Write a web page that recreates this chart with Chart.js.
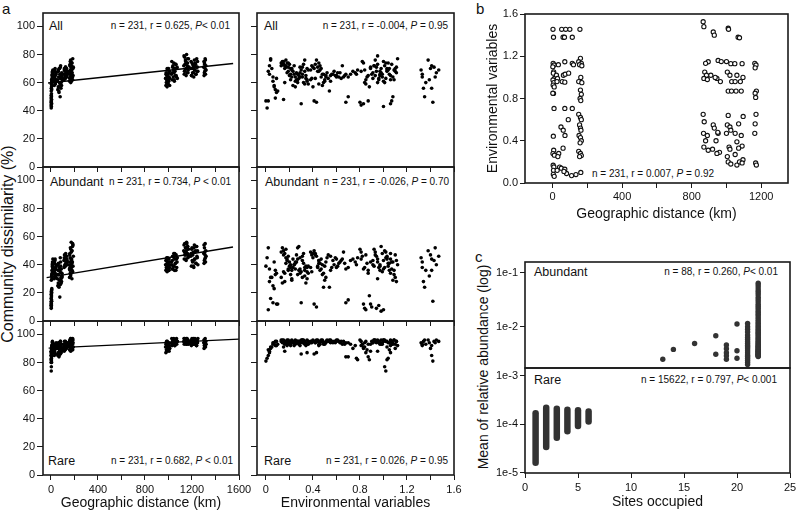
<!DOCTYPE html>
<html><head><meta charset="utf-8">
<script src="https://cdn.jsdelivr.net/npm/chart.js@4.4.1/dist/chart.umd.min.js"></script>
<style>
html,body{margin:0;padding:0;background:#fff;}
#root{position:relative;width:800px;height:513px;overflow:hidden;font-family:'Liberation Sans',Arial,Helvetica,sans-serif;color:#111;}
canvas{position:absolute;}
.t{position:absolute;white-space:nowrap;line-height:1;transform:translateY(-50%);}
.tr{position:absolute;white-space:nowrap;line-height:1;transform:translate(-100%,-50%);}
.lab{font-size:12.5px;}
.st{font-size:10px;}
.let{font-size:15px;}
.vt{position:absolute;white-space:nowrap;line-height:1;transform:translate(-50%,-50%) rotate(-90deg);font-size:16px;}
</style></head><body><div id="root">
<div class="t let" style="left:2px;top:8px">a</div>
<div class="t let" style="left:476px;top:8px">b</div>
<div class="t let" style="left:475px;top:256px">c</div>
<div class="vt" style="left:8px;top:244px">Community dissimilarity (%)</div>
<div class="vt" style="left:483px;top:367px;font-size:14px">Mean of relative abundance (log)</div>

<div class="t lab" style="left:49px;top:26px">All</div>
<div class="tr st" style="left:230px;top:26px">n = 231, r = 0.625, <i>P</i>&lt; 0.01</div>
<div class="t lab" style="left:264px;top:26px">All</div>
<div class="tr st" style="left:448px;top:26px">n = 231, r = -0.004, <i>P</i> = 0.95</div>

<div class="t lab" style="left:50px;top:182px">Abundant</div>
<div class="tr st" style="left:231px;top:182px">n = 231, r = 0.734, <i>P</i> &lt; 0.01</div>
<div class="t lab" style="left:265px;top:182px">Abundant</div>
<div class="tr st" style="left:449px;top:182px">n = 231, r = -0.026, <i>P</i> = 0.70</div>

<div class="t lab" style="left:48px;top:461px">Rare</div>
<div class="tr st" style="left:233px;top:461px">n = 231, r = 0.682, <i>P</i> &lt; 0.01</div>
<div class="t lab" style="left:264px;top:461px">Rare</div>
<div class="tr st" style="left:448px;top:461px">n = 231, r = 0.026, <i>P</i> = 0.95</div>

<div class="t st" style="left:592px;top:174px">n = 231, r = 0.007, <i>P</i> = 0.92</div>

<div class="t lab" style="left:534px;top:272px">Abundant</div>
<div class="tr st" style="left:778px;top:272px">n = 88, r = 0.260, <i>P</i>&lt; 0.01</div>
<div class="t lab" style="left:534px;top:380px">Rare</div>
<div class="tr st" style="left:777px;top:380px">n = 15622, r = 0.797, <i>P</i>&lt; 0.001</div>
</div>
<script>
// ---------------- DATA ----------------
// Panel a, left column: geographic distance (km) of each site pair
const geoDistance = [
 2,3,1,4,2,3,5,1,4,2,3,5,4,2, 6,3,5,7,4,6,8,5,7,3, 10,12,9,14,11,13,10,15,12,16,11,14,
 25,28,30,32,35,38,40,42,27,33,37,44,29,36,41,31,
 55,58,60,62,65,68,70,72,75,78,80,82,85,88,90,92,95, 57,63,67,73,77,83,87,93, 61,69,79,86,91,
 110,112,115,118,120,122,125,128,130,132,135,138,140, 113,117,123,127,133,137,119,
 155,158,160,162,165,168,170,172,175,178,180,182,185,188,190, 157,163,167,173,177,183,187, 159,164,169,174,179,184, 171,176, 161,166,
 975,978,980,982,985,988,990,992,995,998,1000,1002,1005,1008,1010, 979,984,989,994,999,1004,1009,
 1025,1030,1035,1040,1045,1050,1055,1060,1065,1070,1075, 1028,1033,1038,1043,1048,1053,1058,1063,1068,1073, 1047,
 1130,1134,1138,1142,1146,1150,1154,1158,1162,1166,1170,1175, 1132,1136,1140,1144,1148,1152,1156,1160,1164,1168,
 1190,1195,1200,1205,1210,1215,1220,1225,1230,1235,1240,1245,1250, 1192,1197,1202,1207,1212,1217,1222,1227,1232,1237,1242,1247, 1213,
 1300,1303,1306,1309,1312,1315,1318,1320,1302,1305,1308,1311,1314
];
const dissimAll = [
 42,43,44,45,46,47,48,49,50,51,47,45,52,54, 55,56,57,58,59,60,61,62,60,59, 63,64,65,66,67,68,62,64,66,69,61,65,
 64,58,68,60,70,59,66,62,61,63,65,67,69,62,66,64,
 61,55,68,57,64,53,70,60,66,50,63,72,56,65,58,67,62, 62,68,54,70,59,66,60,64, 69,57,71,63,65,
 66,62,70,64,68,63,71,65,69,67,64,66,68, 69,63,71,65,70,67,66,
 66,61,72,64,69,60,75,63,70,67,74,62,77,65,71, 68,73,76,61,69,64,70, 63,75,66,72,67,62, 71,65, 68,73,
 63,58,67,60,65,57,69,62,66,59,70,61,64,68, 58,66,62,70,60,64,67,63,
 66,62,71,64,74,61,68,73,65,70,63,75,67,72,69, 62,70,65,73,64,71,67,
 72,66,78,69,75,65,80,70,74,67,77,71,79,68,73,76, 70,74,67,72,77,69,
 70,65,74,67,72,64,76,69,73,66,77,71,68,75, 65,70,73,67,72,69, 74,66,71,68,75, 70,
 71,65,74,68,77,66,72,69,75,67,73,70,76
];
const dissimAbundant = [
 9,10,11,12,13,14,15,16,17,12,11,14,18,19, 20,21,22,23,20,22,30,32,33,29, 34,35,36,38,40,42,31,37,39,44,33,41,
 36,30,42,33,44,38,31,40,35,43,32,39,41,34,37,36,
 30,25,36,27,33,24,38,29,17,35,26,42,31,37,28,34,32, 33,41,25,36,29,39,27,31, 40,26,45,30,34,
 43,38,47,40,45,39,48,41,46,42,44,40,42, 45,39,47,41,46,43,44,
 40,31,48,36,52,33,44,56,38,30,50,42,35,54,46, 37,45,32,49,41,53,39, 47,34,51,43,36,55, 40,44, 38,42,
 40,36,43,38,45,35,41,44,37,42,39,36,44,38, 40,43,37,41,45,39,36,42,
 42,37,46,39,48,36,44,41,47,38,45,40,43,37, 46,39,48,41,36,44,42,45,
 50,44,55,47,52,43,56,48,53,45,51,46,54,49, 47,52,44,50,55,48,53,46,
 46,39,52,42,49,38,54,44,50,41,53,45,40,48,51,43,47, 39,52,44,49,41,53,46,50, 43,
 48,41,52,44,55,42,50,46,54,43,49,47,45
];
const dissimRare = [
 74,77,80,81,82,83,84,85,86,87,82,80,88,85, 86,88,89,90,87,91,90,89,92,88, 90,91,92,93,94,92,91,93,95,94,90,92,
 89,85,92,87,93,86,90,91,87,89,91,94,88,90,92,90,
 90,85,93,87,91,84,94,89,88,92,86,95,88,91,89,93,90, 91,94,86,92,89,93,87,90, 93,85,95,88,90,
 92,88,95,90,93,89,94,91,92,90,94,93,91, 93,89,95,91,94,92,92,
 93,89,96,91,94,88,97,92,95,90,93,96,89,94,91, 95,92,97,90,94,93,96, 91,95,92,94,90,97, 93,95, 92,94,
 91,87,94,89,92,88,95,90,93,89,91,94,88,92, 90,93,95,91,89,94,92,90,
 94,92,96,93,97,95,92,94,96,93,95,97,94,96, 93,95,92,96,94,97,95,93,
 95,93,97,94,96,93,95,97,94,96,93,95,97,94,96,95, 94,97,93,96,95,94,
 95,92,97,94,96,93,95,97,94,96,92,95,97,93, 96,94,95,97,93,96, 94,95,92,96,94, 95,
 94,90,96,92,97,91,95,93,96,92,94,95,93
];
// regression lines (km -> %)
const fitGeoStart = [-25, -37, -20];
const fitGeoEnd = [1550, 1549, 1600];
const fitAllY = [59.7, 73.6];
const fitAbundantY = [30.8, 52.6];
const fitRareY = [90.2, 96.6];

// Panel a, middle column: environmental distance of each site pair
const envDistance = [
 0.00,0.01,0.02,0.03,0.04,0.05,0.06,0.07,0.08,0.09,0.10,0.02,0.04,0.06,0.08,0.03,0.07,0.09,
 0.13,0.14,0.15,0.16,0.17,0.18,0.19,0.20,0.21,0.22,0.13,0.15,0.17,0.19,0.21,0.14,0.16,0.18,0.20,0.22,0.15,0.17,0.19,0.21,0.16,
 0.22,0.23,0.24,0.25,0.26,0.27,0.28,0.29,0.30,0.31,0.32,0.33,0.34,0.35,0.36, 0.23,0.25,0.27,0.29,0.31,0.33,0.35, 0.24,0.26,0.28,0.30,0.32,0.34,0.36, 0.25,0.29,0.33,0.27,0.31,0.35,
 0.38,0.39,0.40,0.41,0.42,0.43,0.44,0.45,0.46,0.47,0.48,0.49,0.50,0.51,0.52, 0.39,0.41,0.43,0.45,0.47,0.49,0.51, 0.40,0.42,0.44,0.46,0.48,0.50,0.38,0.45,
 0.53,0.55,0.57,0.58,0.60,0.62,0.63,0.65,0.66,0.68, 0.54,0.56,0.59,0.61,0.64,0.67,0.55,0.60,
 0.68,0.70,0.72,0.74,0.76,0.77,0.78,0.70,
 0.80,0.81,0.82,0.83,0.84,0.85,0.86,0.87,0.88,0.89,0.90,0.91,0.92, 0.81,0.83,0.85,0.87,0.89,0.91,0.84,
 0.92,0.93,0.94,0.95,0.96,0.97,0.98,0.99,1.00,1.01,1.02,1.03,1.04,1.05,1.06,1.07,1.08,1.09,1.10,1.11,1.12, 0.93,0.95,0.97,0.99,1.01,1.03,1.05,1.07,1.09,1.11, 0.94,0.96,0.98,1.00,1.02,1.04,1.06,1.08,1.10, 0.97,1.00,1.03,1.06,0.95,
 1.32,1.33,1.34,1.35,1.36,1.38,1.40,1.41,1.42,1.43,1.44,1.45,1.47,1.33,1.41,1.39
];
const envDissimAll = [
 47,42,68,72,76,70,64,58,55,53,54,47,77,61,49,66,57,63,
 74,75,73,72,76,74,71,73,70,69,72,75,71,68,66,73,70,67,65,64,48,72,74,62,60,
 70,68,66,64,62,60,65,67,69,71,73,76,63,61,59, 58,57,62,64,66,68,70, 72,67,63,45,60,65,69, 61,71,59,66,64,62,
 69,72,71,70,73,76,71,68,69,64,58,66,62,65,67, 63,47,46,74,70,60,64, 57,63,68,72,66,61,62,59,
 63,65,66,68,65,64,67,72,64,66, 54,66,65,67,63,65,61,64,
 46,50,66,68,67,66,69,64,
 46,44,75,74,69,59,64,47,57,70,66,63,72,68,45,62,65,71,67,60,
 72,76,68,79,62,65,70,66,75,60,63,69,74,70,65,47,50,62,68,71,77, 65,60,68,64,72,70,66,73,69,67, 71,63,67,43,74,69,62,64,70, 66,61,68,45,73,
 69,64,56,50,60,76,70,56,46,71,64,67,69,66,72,62
];
const envDissimAbundant = [
 39,45,52,37,31,31,25,23,36,12,12,8,16,13,33,28,42,34,
 49,52,50,48,45,44,36,42,38,29,31,47,51,46,40,27,34,43,39,30,35,41,37,33,28,
 36,38,40,42,47,52,53,34,35,31,41,36,27,35,39, 44,37,33,45,43,38,30, 40,42,36,13,48,39,34, 41,37,32,44,46,38,
 49,47,48,50,48,46,38,41,36,44,40,24,39,42,45, 35,12,10,43,37,34,31, 45,47,39,41,33,29,38,43,
 47,46,43,40,38,41,42,44,49,37, 24,38,45,39,43,41,36,44,
 13,15,43,44,42,40,45,38,
 51,49,46,12,9,8,41,34,18,12,10,43,39,44,37,47,36,42,40,38,
 51,49,46,42,38,36,53,48,43,38,49,45,41,36,44,42,29,36,31,28,40, 47,44,39,35,50,46,41,37,33,43, 9,11,7,8,45,39,34,42,47, 40,37,44,48,30,
 45,42,28,24,36,50,47,36,14,43,52,40,46,38,44,32
];
const envDissimRare = [
 81,83,85,87,90,91,94,94,95,92,93,89,91,93,92,88,94,95,
 95,96,96,95,94,96,95,94,93,95,96,95,94,96,95,94,93,92,94,95,91,94,93,92,88,
 96,95,94,96,95,94,93,95,96,94,95,93,92,96,95, 94,93,95,94,96,95,93, 92,94,95,86,96,94,93, 95,92,94,95,96,87,
 94,95,96,95,94,96,95,93,94,95,96,94,93,95,96, 94,86,87,95,96,93,94, 95,94,96,93,95,94,95,92,
 95,96,94,95,96,95,94,93,95,94, 96,95,94,96,95,93,94,95,
 84,84,93,90,92,83,82,94,
 96,95,93,91,94,87,89,84,82,93,95,94,96,92,90,95,93,88,94,91,
 96,95,94,96,95,93,96,94,96,77,74,82,83,89,87,95,94,96,93,95,92, 96,95,94,93,96,95,94,93,96,95, 95,94,93,96,95,94,92,93,90, 94,95,91,96,88,
 94,92,95,96,93,96,90,85,81,95,94,96,95,93,92,94
];

// Panel b: [geographic distance (km), environmental distance]
const geoEnvPairs = [
 [2,1.455],[5,1.38],[3,1.133],[8,1.117],[1,1.10],[6,1.053],[4,1.04],[10,0.99],[2,0.975],[7,0.95],[3,0.927],[9,0.91],[5,0.848],[1,0.85],[8,0.706],[4,0.443],[6,0.31],[2,0.279],[10,0.263],[3,0.168],[7,0.152],[5,0.12],[4,0.082],[9,0.063],
 [22,1.02],[28,0.99],[25,0.96],[35,0.28],[30,0.25],[40,0.15],[26,0.12],[33,1.12],
 [52,1.455],[75,1.455],[60,1.38],[68,1.38],[70,1.148],[62,1.02],[72,1.03],[55,0.96],[70,0.955],[70,0.706],[48,0.53],[61,0.50],[71,0.45],[60,0.33],[50,0.14],[70,0.13],[80,0.09],[65,0.11],
 [99,1.455],[113,1.38],[113,1.133],[92,1.04],[113,0.706],[90,0.6],[109,0.07],[134,0.08],[120,1.12],
 [157,1.455],[160,1.18],[150,1.148],[165,1.133],[155,1.12],[168,1.11],[162,1.0],[150,0.96],[168,0.95],[160,0.88],[165,0.84],[158,0.8],[162,0.78],[150,0.65],[160,0.62],[165,0.6],[155,0.55],[160,0.52],[163,0.5],[152,0.45],[160,0.43],[165,0.40],[158,0.38],[150,0.3],[160,0.28],[165,0.26],[155,0.25],[162,0.1],
 [866,1.527],[870,1.48],[895,1.148],[880,1.133],[875,1.05],[885,1.02],[870,0.99],[890,0.98],[866,0.65],[872,0.58],[868,0.47],[890,0.45],[880,0.4],[870,0.34],[895,0.31],
 [924,1.43],[930,1.40],[952,1.16],[970,1.15],[910,1.02],[945,0.99],[965,0.96],[935,1.0],[924,0.55],[930,0.52],[952,0.47],[950,0.48],[940,0.4],[920,0.32],[960,0.29],[945,0.28],
 [1010,1.465],[1012,1.455],[1000,1.15],[1025,1.13],[1005,1.05],[1020,1.02],[1030,0.96],[1010,0.87],[1029,0.87],[1010,0.64],[1005,0.55],[1020,0.53],[1025,0.5],[1000,0.47],[1015,0.34],[1020,0.32],[1005,0.25],[1010,0.2],[1025,0.18],
 [1067,1.38],[1075,1.375],[1048,1.13],[1090,1.13],[1060,1.02],[1095,1.0],[1080,0.96],[1050,0.96],[1055,0.87],[1085,0.87],[1096,0.63],[1070,0.56],[1050,0.47],[1085,0.45],[1060,0.39],[1090,0.35],[1070,0.33],[1050,0.27],[1095,0.22],[1075,0.2],[1060,0.17],[1090,0.19],
 [1163,1.133],[1170,1.117],[1165,1.09],[1172,0.87],[1165,0.85],[1168,0.81],[1170,0.65],[1165,0.56],[1163,0.47],[1168,0.19],[1172,0.17]
];

// Panel c: abundant OTUs (sites occupied, mean relative abundance)
const abundantSites = [13,14,16,18,18,19,19,19,19,19,20,20,20,
 21,21,21,21,21,21,21,21,21,21,21,21,21,21,21,21,21,21,21,21,
 22,22,22,22,22,22,22,22,22,22,22,22,22,22,22,22,22,22,22,22,22,22,22,22,22,22,22,22,22,22,22,22,22,22,22,22,22,22,22,22,22,22,22,22,22,22,22,22,22,22,22,22,22,22,22];
const abundantMean = [0.0025,0.0038,0.0049,0.0068,0.0031,0.0046,0.0039,0.0033,0.0029,0.0025,0.0112,0.0036,0.0026,
 0.0115,0.0100,0.0090,0.0080,0.0070,0.0063,0.0058,0.0053,0.0049,0.0045,0.0042,0.0039,0.0036,0.0033,0.0030,0.0028,0.0026,0.0024,0.0022,0.0020,
 0.064,0.058,0.052,0.047,0.043,0.039,0.035,0.032,0.029,0.026,0.024,0.022,0.020,0.0185,0.017,0.0158,0.0146,0.0135,0.0125,0.0116,0.0108,0.0101,0.0095,0.0089,0.0084,0.0079,0.0075,0.0071,0.0067,0.0063,0.006,0.0057,0.0054,0.0051,0.0049,0.0047,0.0045,0.0043,0.0041,0.0039,0.0037,0.0036,0.0035,0.0034,0.0033,0.0032,0.0031,0.003,0.0029,0.0028,0.0042,0.0038,0.0034,0.0031,0.0029];
// rare OTUs: range of mean relative abundance per number of sites occupied
const rareSites = [1,2,3,4,5,6];
const rareMax = [1.7e-4,2.2e-4,2.1e-4,2.0e-4,1.95e-4,1.85e-4];
const rareMin = [1.6e-5,3.4e-5,5.3e-5,7.2e-5,9.2e-5,1.15e-4];

// Tick values / labels
const dissimTicks = [0,20,40,60,80,100];
const dissimLabels = ['0','20','40','60','80','100'];
const geoTicks = [0,200,400,600,800,1000,1200,1400,1600];
const geoLabels = ['0','','400','','800','','1200','','1600'];
const envTicks = [0,0.2,0.4,0.6,0.8,1.0,1.2,1.4,1.6];
const envLabels = ['0','','0.4','','0.8','','1.2','','1.6'];
const bGeoTicks = [0,200,400,600,800,1000,1200];
const bGeoLabels = ['0','','400','','800','','1200'];
const bEnvTicks = [0,0.4,0.8,1.2,1.6];
const bEnvLabels = ['0.0','0.4','0.8','1.2','1.6'];
const siteTicks = [0,5,10,15,20,25];
const siteLabels = ['0','5','10','15','20','25'];
const upperLogTicks = [1e-1,1e-2];
const upperLogLabels = ['1e-1','1e-2'];
const lowerLogTicks = [1e-3,1e-4,1e-5];
const lowerLogLabels = ['1e-3','1e-4','1e-5'];

// ---------------- DRAWING ----------------
Chart.defaults.font.family = "'Liberation Sans', Arial, Helvetica, sans-serif";
Chart.defaults.color = '#111';

const framePlugin = {
  id: 'frame',
  afterDraw(chart, args, opts) {
    const a = chart.chartArea, ctx = chart.ctx;
    ctx.save();
    ctx.strokeStyle = opts.color || '#1a1a1a';
    ctx.lineWidth = opts.width || 1.6;
    ctx.strokeRect(a.left, a.top, a.right - a.left, a.bottom - a.top);
    ctx.restore();
  }
};
Chart.register(framePlugin);

const root = document.getElementById('root');
function addCanvas(left, top, w, h) {
  const c = document.createElement('canvas');
  c.width = w; c.height = h;
  c.style.left = left + 'px'; c.style.top = top + 'px';
  c.style.width = w + 'px'; c.style.height = h + 'px';
  root.appendChild(c);
  return c;
}

function scale(type, min, max, ticks, labels, opt) {
  opt = opt || {};
  return {
    type, min, max,
    afterBuildTicks: s => { s.ticks = ticks.map(v => ({value: v})); },
    ticks: {display: !!opt.labels, autoSkip: false, maxRotation: 0, minRotation: 0,
            padding: opt.pad != null ? opt.pad : 2, font: {size: 11}, color: '#111',
            callback: (v, i) => labels[i]},
    grid: {display: opt.grid !== false, drawOnChartArea: false, drawTicks: true,
           tickLength: opt.tl || 5, color: '#1a1a1a', lineWidth: 1},
    border: {display: false},
    title: opt.title ? {display: true, text: opt.title, font: {size: 14}, color: '#111',
                        padding: opt.titlePad} : {display: false}
  };
}

function noOverflow(s) { s.paddingTop = 0; s.paddingBottom = 0; s.paddingLeft = 0; s.paddingRight = 0; }

function panel(box, xs, ys, datasets) {
  const cv = addCanvas(box.left, box.top, box.width, box.height);
  const yW = box.l - box.left, xH = box.top + box.height - box.b;
  xs.afterFit = s => { s.height = xH; noOverflow(s); };
  ys.afterFit = s => { s.width = yW; noOverflow(s); };
  return new Chart(cv, {
    type: 'scatter',
    data: {datasets},
    options: {
      responsive: false, devicePixelRatio: 1, animation: false,
      layout: {autoPadding: false, padding: {top: box.t - box.top, right: box.left + box.width - box.r, left: 0, bottom: 0}},
      scales: {x: xs, y: ys},
      plugins: {legend: {display: false}, tooltip: {enabled: false}, frame: {}}
    }
  });
}

const pts = (xs, ys) => xs.map((x, i) => ({x, y: ys[i]}));
const dots = (data, r, fill, stroke, bw) => ({data, showLine: false, pointRadius: r, pointHoverRadius: r,
  pointBackgroundColor: fill, pointBorderColor: stroke || fill, pointBorderWidth: bw || 0});
const fitLine = (x0, x1, ys) => ({data: [{x: x0, y: ys[0]}, {x: x1, y: ys[1]}], showLine: true,
  pointRadius: 0, borderColor: '#000', borderWidth: 1.4});

const rows = [
  {top: 0, height: 173, t: 13, b: 167},
  {top: 160, height: 167, t: 167, b: 321},
  {top: 314, height: 199, t: 321, b: 475}
];
const leftY = [dissimAll, dissimAbundant, dissimRare];
const midY = [envDissimAll, envDissimAbundant, envDissimRare];
const fits = [fitAllY, fitAbundantY, fitRareY];

rows.forEach((row, k) => {
  const last = k === 2;
  // left column: geographic distance
  panel({left: 0, top: row.top, width: 256, height: row.height, l: 43, t: row.t, r: 239, b: row.b},
    scale('linear', -68, 1600, geoTicks, geoLabels, {labels: last, pad: 3,
      title: last ? 'Geographic distance (km)' : null, titlePad: {top: 0, bottom: 1.6}}),
    scale('linear', 0, 109.5, dissimTicks, dissimLabels, {labels: true, tl: 6, pad: 2}),
    [dots(pts(geoDistance, leftY[k]), 1.8, '#000'), fitLine(fitGeoStart[k], fitGeoEnd[k], fits[k])]);
  // middle column: environmental variables
  panel({left: 250, top: row.top, width: 215, height: row.height, l: 257, t: row.t, r: 454, b: row.b},
    scale('linear', -0.076, 1.6, envTicks, envLabels, {labels: last, pad: 3,
      title: last ? 'Environmental variables' : null, titlePad: {top: 0, bottom: 1.6}}),
    scale('linear', 0, 109.5, dissimTicks, dissimLabels, {labels: false, tl: 6}),
    [dots(pts(envDistance, midY[k]), 1.8, '#000')]);
});

// panel b
panel({left: 470, top: 0, width: 330, height: 225, l: 525, t: 14, r: 788, b: 183},
  scale('linear', -159, 1354, bGeoTicks, bGeoLabels, {labels: true, pad: 2,
    title: 'Geographic distance (km)', titlePad: {top: 0, bottom: 2.6}}),
  scale('linear', 0, 1.6, bEnvTicks, bEnvLabels, {labels: true, tl: 5, pad: 2,
    title: 'Environmental variables', titlePad: {top: 15, bottom: 0}}),
  [dots(geoEnvPairs.map(p => ({x: p[0], y: p[1]})), 2.1, '#fff', '#111', 1.1)]);

// panel c upper (abundant)
panel({left: 470, top: 255, width: 330, height: 114, l: 525, t: 262, r: 790, b: 368},
  scale('linear', 0, 25, siteTicks, siteLabels, {labels: false, grid: false}),
  scale('logarithmic', 0.00172, 0.158, upperLogTicks, upperLogLabels, {labels: true, tl: 5, pad: 2}),
  [dots(pts(abundantSites, abundantMean), 2.7, '#333')]);

// panel c lower (rare)
panel({left: 470, top: 363, width: 330, height: 150, l: 525, t: 368, r: 790, b: 473},
  scale('linear', 0, 25, siteTicks, siteLabels, {labels: true, pad: 3,
    title: 'Sites occupied', titlePad: {top: 0, bottom: 2.1}}),
  scale('logarithmic', 9.86e-6, 0.00146, lowerLogTicks, lowerLogLabels, {labels: true, tl: 5, pad: 2}),
  rareSites.map((s, i) => ({data: [{x: s, y: rareMin[i]}, {x: s, y: rareMax[i]}], showLine: true,
    pointRadius: 0, borderColor: '#333', borderWidth: 6.5, borderCapStyle: 'round'})));
</script>
</body></html>
